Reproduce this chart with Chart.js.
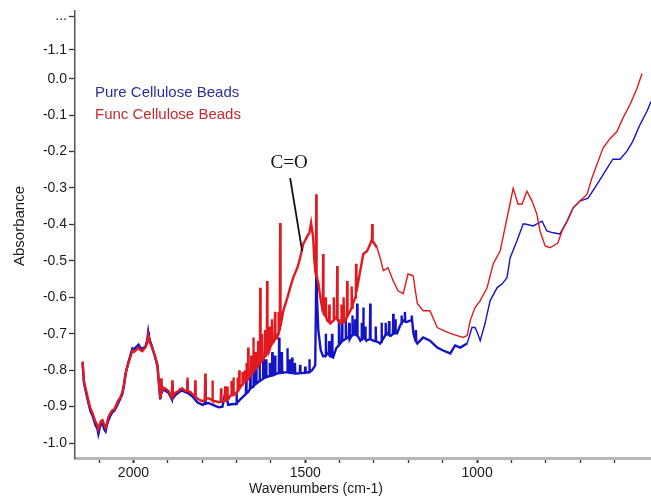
<!DOCTYPE html>
<html lang="en">
  <head>
    <meta charset="UTF-8" />
    <title>Absorbance spectra</title>
    <style>
      body { margin: 0; background: #fff; }
    </style>
  </head>
  <body>
    <canvas id="myChart" width="651" height="497"></canvas>
    <script src="https://cdn.jsdelivr.net/npm/chart.js"></script>
    <script>
      // series: wavenumber (cm-1) and absorbance
      const funcWave = [2148,2144,2140,2131,2125,2119,2110,2105,2102,2098,2095,2090,2085,2081,2077,2073,2067,2061,2056,2052,2044,2038,2032,2027,2023,2019,2015,2009,2003,1998,1994,1989,1985,1980,1974,1970,1965,1960,1957,1955,1951,1947,1942,1936,1930,1927,1922,1920,1919,1918,1913,1905,1898,1892,1888,1887,1886,1878,1870,1864,1858,1850,1844,1843,1842,1834,1828,1821,1820,1819,1814,1806,1799,1792,1791,1790,1782,1771,1770,1769,1762,1752,1746,1745,1744,1741,1734,1733,1732,1728,1727,1726,1724,1718,1716,1715,1714,1710,1709,1708,1700,1698,1697,1696,1693,1692,1691,1689,1684,1683,1682,1677,1676,1675,1672,1671,1670,1667,1666,1665,1660,1658,1657,1656,1652,1651,1650,1646,1645,1644,1640,1638,1637,1636,1632,1631,1630,1627,1626,1625,1622,1618,1617,1616,1612,1611,1610,1606,1605,1604,1602,1598,1597,1596,1592,1589,1588,1587,1581,1579,1578,1577,1574,1573,1572,1564,1552,1544,1535,1523,1515,1506,1494,1488,1483,1477,1474,1471,1469,1468,1467,1462,1456,1449,1448,1447,1441,1440,1439,1436,1431,1430,1429,1427,1420,1418,1417,1416,1413,1408,1407,1406,1398,1396,1395,1394,1390,1389,1388,1387,1384,1379,1378,1377,1369,1366,1365,1364,1362,1355,1353,1352,1351,1340,1331,1320,1311,1306,1305,1304,1291,1282,1273,1259,1244,1230,1215,1201,1186,1174,1157,1137,1116,1099,1078,1058,1041,1029,1020,1006,991,971,953,933,913,895,881,869,855,840,826,817,802,788,765,753,738,721,701,680,666,651,634,613,593,576,555,535,520];
      const funcAbs = [-0.776,-0.830,-0.847,-0.883,-0.905,-0.918,-0.943,-0.950,-0.962,-0.950,-0.940,-0.937,-0.950,-0.958,-0.945,-0.929,-0.918,-0.910,-0.908,-0.900,-0.883,-0.875,-0.860,-0.835,-0.809,-0.795,-0.781,-0.765,-0.746,-0.750,-0.746,-0.742,-0.738,-0.745,-0.748,-0.742,-0.738,-0.725,-0.705,-0.715,-0.727,-0.735,-0.748,-0.765,-0.785,-0.820,-0.874,-0.860,-0.822,-0.858,-0.848,-0.852,-0.857,-0.868,-0.874,-0.828,-0.872,-0.862,-0.858,-0.852,-0.850,-0.856,-0.858,-0.820,-0.857,-0.860,-0.866,-0.870,-0.828,-0.872,-0.878,-0.882,-0.885,-0.882,-0.809,-0.880,-0.877,-0.882,-0.828,-0.884,-0.885,-0.888,-0.887,-0.850,-0.886,-0.886,-0.884,-0.844,-0.882,-0.881,-0.845,-0.880,-0.880,-0.870,-0.869,-0.830,-0.868,-0.868,-0.820,-0.866,-0.862,-0.858,-0.820,-0.857,-0.852,-0.800,-0.850,-0.847,-0.840,-0.805,-0.838,-0.832,-0.800,-0.830,-0.828,-0.780,-0.826,-0.825,-0.738,-0.822,-0.815,-0.812,-0.760,-0.810,-0.805,-0.710,-0.800,-0.797,-0.750,-0.796,-0.792,-0.788,-0.720,-0.786,-0.780,-0.574,-0.778,-0.775,-0.700,-0.774,-0.770,-0.762,-0.690,-0.760,-0.755,-0.555,-0.752,-0.745,-0.680,-0.744,-0.738,-0.728,-0.660,-0.726,-0.722,-0.716,-0.640,-0.715,-0.708,-0.700,-0.640,-0.698,-0.688,-0.396,-0.680,-0.637,-0.601,-0.574,-0.546,-0.519,-0.492,-0.454,-0.432,-0.423,-0.396,-0.437,-0.492,-0.527,-0.540,-0.317,-0.545,-0.560,-0.601,-0.640,-0.481,-0.645,-0.652,-0.600,-0.655,-0.664,-0.668,-0.620,-0.670,-0.672,-0.665,-0.663,-0.600,-0.660,-0.656,-0.660,-0.514,-0.662,-0.672,-0.671,-0.620,-0.670,-0.668,-0.667,-0.600,-0.666,-0.664,-0.655,-0.555,-0.652,-0.637,-0.630,-0.570,-0.628,-0.620,-0.601,-0.590,-0.508,-0.585,-0.527,-0.481,-0.473,-0.454,-0.440,-0.399,-0.445,-0.464,-0.492,-0.527,-0.519,-0.555,-0.582,-0.590,-0.536,-0.541,-0.617,-0.637,-0.637,-0.683,-0.691,-0.699,-0.705,-0.710,-0.705,-0.664,-0.628,-0.609,-0.574,-0.508,-0.473,-0.383,-0.301,-0.344,-0.344,-0.309,-0.336,-0.372,-0.418,-0.459,-0.464,-0.451,-0.418,-0.391,-0.355,-0.336,-0.317,-0.273,-0.235,-0.191,-0.164,-0.145,-0.109,-0.071,-0.027,0.014];

      const pureWave = [2148,2144,2140,2131,2125,2119,2110,2105,2102,2098,2095,2090,2085,2081,2077,2073,2067,2061,2056,2052,2044,2038,2032,2027,2023,2019,2015,2009,2003,1998,1994,1989,1985,1980,1974,1970,1965,1960,1957,1955,1951,1947,1942,1936,1930,1927,1922,1919,1918,1913,1905,1898,1888,1887,1886,1878,1864,1858,1844,1843,1842,1828,1814,1799,1792,1791,1790,1782,1762,1752,1741,1733,1724,1710,1703,1701,1700,1699,1689,1680,1673,1672,1671,1666,1661,1660,1659,1652,1651,1650,1644,1643,1642,1640,1634,1633,1632,1630,1623,1622,1621,1615,1614,1613,1610,1604,1603,1602,1597,1596,1595,1589,1588,1587,1585,1577,1576,1575,1569,1568,1567,1565,1553,1552,1551,1546,1545,1544,1539,1538,1537,1531,1530,1529,1523,1516,1515,1514,1510,1501,1500,1499,1494,1489,1488,1487,1480,1471,1468,1466,1462,1455,1448,1441,1440,1439,1436,1431,1430,1429,1427,1423,1422,1421,1419,1410,1403,1402,1401,1398,1394,1393,1392,1388,1383,1382,1381,1378,1373,1372,1371,1370,1364,1363,1362,1360,1356,1355,1354,1350,1349,1348,1340,1337,1336,1335,1332,1331,1330,1326,1325,1324,1320,1312,1311,1310,1302,1296,1295,1294,1290,1282,1279,1278,1277,1272,1267,1266,1265,1262,1257,1256,1255,1250,1245,1244,1243,1239,1238,1237,1233,1225,1221,1220,1219,1215,1211,1210,1209,1205,1195,1191,1190,1189,1185,1179,1178,1177,1174,1165,1157,1137,1116,1099,1078,1064,1049,1029,1015,1006,998,991,977,962,942,927,913,904,884,866,860,837,811,797,779,759,738,721,701,677,651,622,605,584,564,547,526,506,494];
      const pureAbs = [-0.780,-0.835,-0.852,-0.890,-0.912,-0.925,-0.952,-0.960,-0.975,-0.958,-0.950,-0.945,-0.962,-0.968,-0.950,-0.938,-0.925,-0.915,-0.912,-0.905,-0.890,-0.878,-0.865,-0.840,-0.812,-0.795,-0.780,-0.760,-0.740,-0.742,-0.738,-0.734,-0.730,-0.738,-0.742,-0.738,-0.735,-0.718,-0.695,-0.708,-0.722,-0.732,-0.748,-0.768,-0.790,-0.825,-0.880,-0.835,-0.862,-0.852,-0.858,-0.862,-0.880,-0.840,-0.878,-0.868,-0.858,-0.856,-0.862,-0.830,-0.862,-0.872,-0.888,-0.895,-0.892,-0.825,-0.892,-0.890,-0.898,-0.902,-0.900,-0.862,-0.895,-0.893,-0.893,-0.892,-0.860,-0.890,-0.880,-0.872,-0.866,-0.830,-0.864,-0.860,-0.852,-0.810,-0.850,-0.845,-0.800,-0.842,-0.838,-0.790,-0.836,-0.835,-0.830,-0.780,-0.829,-0.828,-0.824,-0.765,-0.822,-0.820,-0.770,-0.819,-0.818,-0.816,-0.780,-0.815,-0.815,-0.750,-0.814,-0.812,-0.760,-0.811,-0.810,-0.808,-0.710,-0.808,-0.807,-0.750,-0.807,-0.806,-0.806,-0.740,-0.806,-0.807,-0.770,-0.807,-0.808,-0.765,-0.808,-0.808,-0.780,-0.809,-0.809,-0.808,-0.785,-0.808,-0.808,-0.807,-0.790,-0.807,-0.806,-0.805,-0.770,-0.805,-0.800,-0.787,-0.541,-0.600,-0.691,-0.745,-0.762,-0.760,-0.700,-0.758,-0.754,-0.758,-0.720,-0.760,-0.762,-0.763,-0.700,-0.764,-0.765,-0.740,-0.732,-0.660,-0.730,-0.727,-0.722,-0.670,-0.720,-0.718,-0.714,-0.660,-0.712,-0.710,-0.713,-0.670,-0.714,-0.715,-0.704,-0.650,-0.702,-0.700,-0.702,-0.660,-0.703,-0.705,-0.617,-0.705,-0.719,-0.716,-0.670,-0.714,-0.712,-0.628,-0.712,-0.714,-0.680,-0.716,-0.718,-0.715,-0.617,-0.715,-0.719,-0.721,-0.680,-0.721,-0.722,-0.727,-0.722,-0.670,-0.720,-0.712,-0.703,-0.670,-0.702,-0.699,-0.703,-0.665,-0.704,-0.705,-0.700,-0.645,-0.700,-0.699,-0.660,-0.698,-0.699,-0.680,-0.672,-0.650,-0.670,-0.664,-0.666,-0.640,-0.667,-0.668,-0.664,-0.662,-0.650,-0.665,-0.700,-0.720,-0.690,-0.722,-0.727,-0.718,-0.710,-0.719,-0.738,-0.746,-0.754,-0.732,-0.738,-0.727,-0.683,-0.683,-0.700,-0.719,-0.672,-0.609,-0.574,-0.563,-0.546,-0.492,-0.445,-0.399,-0.399,-0.404,-0.391,-0.418,-0.423,-0.426,-0.391,-0.355,-0.336,-0.328,-0.290,-0.246,-0.221,-0.221,-0.199,-0.172,-0.126,-0.090,-0.063];

      const seriesNames = ["Pure Cellulose Beads", "Func Cellulose Beads"];

      // axis ticks
      const xTickValues = [2100,2000,1900,1800,1700,1600,1500,1400,1300,1200,1100,1000,900,800,700,600];
      const xTickLabels = [2000, 1500, 1000];
      const yTickValues = [-1.0,-0.9,-0.8,-0.7,-0.6,-0.5,-0.4,-0.3,-0.2,-0.1,0.0,0.079,0.172];
      const yTickLabels = ["-1.0","-0.9","-0.8","-0.7","-0.6","-0.5","-0.4","-0.3","-0.2","-0.1","0.0","-1.1","..."];

      // C=O note: label spot and pointer line ends (data units)
      const noteText = "C=O";
      const notePos = [1547, -0.232];
      const notePointer = [[1544, -0.273], [1509, -0.473]];

      const toPoints = (xs, ys) => xs.map((x, i) => ({ x: x, y: ys[i] }));

      const font = "'Liberation Sans', Arial, sans-serif";

      const textPlugin = {
        id: "texts",
        afterDraw(chart) {
          const c = chart.ctx;
          const xs = chart.scales.x;
          const ys = chart.scales.y;
          c.save();
          // legend inside the plot
          c.font = "15px " + font;
          c.textAlign = "left";
          c.textBaseline = "middle";
          c.fillStyle = "#2e2e9c";
          c.fillText(seriesNames[0], 95, 93);
          c.fillStyle = "#c42a30";
          c.fillText(seriesNames[1], 95, 115);

          // annotation
          c.strokeStyle = "#111";
          c.lineWidth = 1.8;
          c.beginPath();
          c.moveTo(xs.getPixelForValue(notePointer[0][0]), ys.getPixelForValue(notePointer[0][1]));
          c.lineTo(xs.getPixelForValue(notePointer[1][0]), ys.getPixelForValue(notePointer[1][1]));
          c.stroke();
          c.fillStyle = "#111";
          c.font = "19px 'Liberation Serif', 'Times New Roman', serif";
          c.textAlign = "center";
          c.fillText(noteText, xs.getPixelForValue(notePos[0]), ys.getPixelForValue(notePos[1]));

          // axis titles
          c.font = "14px " + font;
          c.fillStyle = "#1a1a1a";
          c.fillText("Wavenumbers (cm-1)", 316, 489);
          c.translate(20, 226);
          c.rotate(-Math.PI / 2);
          c.font = "15px " + font;
          c.fillText("Absorbance", 0, 0);
          c.restore();
        },
      };

      new Chart(document.getElementById("myChart"), {
        type: "line",
        data: {
          datasets: [
            {
              label: seriesNames[1],
              data: toPoints(funcWave, funcAbs),
              borderColor: "#e01a1f",
              borderWidth: 1.4,
              segment: {
                borderWidth: (ctx) => (ctx.p0.parsed.x > 1300 ? 2.4 : 1.4),
              },
              pointRadius: 0,
              tension: 0,
              order: 0,
            },
            {
              label: seriesNames[0],
              data: toPoints(pureWave, pureAbs),
              borderColor: "#1414c4",
              borderWidth: 1.4,
              segment: {
                borderWidth: (ctx) => (ctx.p0.parsed.x > 1040 ? 2.4 : 1.4),
              },
              pointRadius: 0,
              tension: 0,
              order: 1,
            },
          ],
        },
        options: {
          responsive: false,
          animation: false,
          layout: { padding: 0 },
          plugins: {
            legend: { display: false },
            tooltip: { enabled: false },
          },
          scales: {
            x: {
              type: "linear",
              reverse: true,
              min: 494,
              max: 2170,
              afterBuildTicks: (scale) => {
                scale.ticks = xTickValues.map((v) => ({ value: v }));
              },
              afterFit: (scale) => {
                scale.height = 39;
              },
              ticks: {
                autoSkip: false,
                maxRotation: 0,
                padding: 2,
                color: "#1a1a1a",
                font: { size: 14, family: font },
                callback: (v) => (xTickLabels.includes(v) ? String(v) : ""),
              },
              grid: {
                drawOnChartArea: false,
                tickLength: 5,
                tickColor: "#333",
                tickWidth: (ctx) => (xTickLabels.includes(ctx.tick && ctx.tick.value) ? 2 : 1.3),
              },
              border: { color: "#b8b8b8", width: 3 },
            },
            y: {
              min: -1.041,
              max: 0.1874,
              afterBuildTicks: (scale) => {
                scale.ticks = yTickValues.map((v) => ({ value: v }));
              },
              afterFit: (scale) => {
                scale.width = 75;
              },
              ticks: {
                autoSkip: false,
                padding: 2,
                color: "#1a1a1a",
                font: { size: 14, family: font },
                callback: (v, i) => yTickLabels[i],
              },
              grid: {
                drawOnChartArea: false,
                tickLength: 6,
                tickColor: "#333",
                tickWidth: 1.3,
              },
              border: { color: "#555", width: 1.5, dash: [1, 2] },
            },
          },
        },
        plugins: [textPlugin],
      });
    </script>
  </body>
</html>
